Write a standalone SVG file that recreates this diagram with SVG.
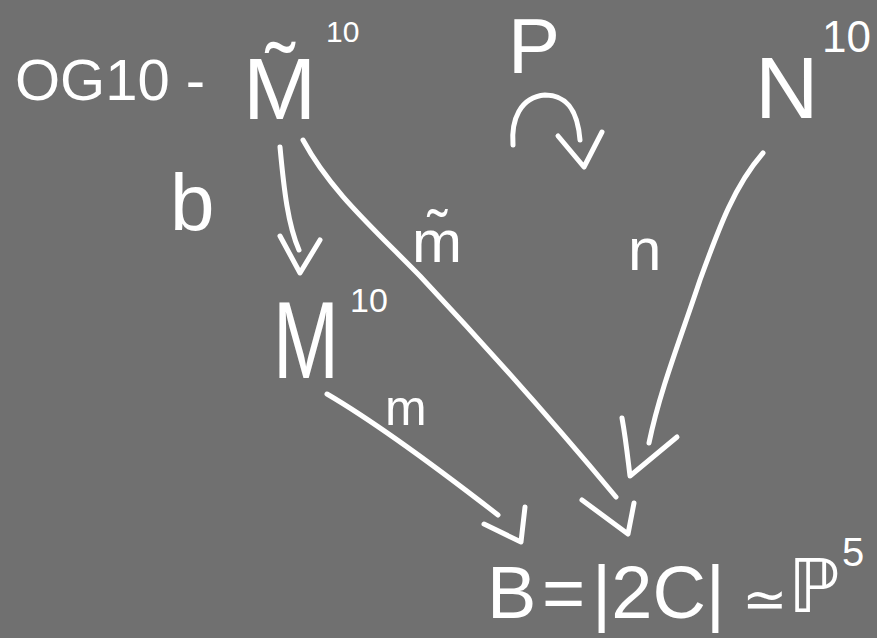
<svg xmlns="http://www.w3.org/2000/svg" width="877" height="638" viewBox="0 0 877 638">
<style>
text{fill:#ffffff;font-family:"Liberation Sans","DejaVu Sans",sans-serif}
.c{fill:none;stroke:#ffffff;stroke-width:5;stroke-linecap:round;stroke-linejoin:round}
</style>
<rect width="877" height="638" fill="#707070"/>
<g id="node-mtilde">
<text x="15" y="100" font-size="58">OG10 -<tspan x="243" y="119" font-size="88">M̃</tspan><tspan x="326" y="42" font-size="30">10</tspan></text>
</g>
<g id="node-p">
<text x="508" y="73" font-size="78">P</text>
</g>
<g id="node-n">
<text x="755" y="118" font-size="88">N<tspan x="822" y="52" font-size="44">10</tspan></text>
</g>
<g id="node-m">
<text transform="translate(273,378) scale(0.72,1)" font-size="110">M</text>
<text x="350" y="312" font-size="34">10</text>
</g>
<g id="node-b">
<text y="618" font-size="74"><tspan x="487">B</tspan><tspan x="542">=</tspan><tspan x="592">|2C|</tspan><tspan x="742" font-size="54">≃</tspan><tspan x="788" y="612" font-size="74" style="font-family:'DejaVu Sans',sans-serif">ℙ</tspan><tspan x="842" y="566" font-size="40">5</tspan></text>
</g>
<g id="connectors">
<path class="c" d="M280,147 C284,190 288,225 299,250"/>
<path class="c" d="M280,236 L300,273 L320,240"/>
<path class="c" d="M303,140 C330,190 370,225 420,276 C480,340 560,430 616,497"/>
<path class="c" d="M582,500 L628,534 L634,503"/>
<path class="c" d="M327,394 C380,425 440,470 498,515"/>
<path class="c" d="M484,524 L521,542 L525,507"/>
<path class="c" d="M763,153 C735,185 720,225 700,280 C680,340 660,390 649,443"/>
<path class="c" d="M622,418 C626,440 628,460 630,476 L677,437"/>
<path class="c" d="M513,145 C511,120 520,97 545,95 C570,95 578,115 580,140"/>
<path class="c" d="M558,136 L584,167 L602,132"/>
<text x="170" y="230" font-size="80">b</text>
<text x="412" y="262" font-size="60">m̃</text>
<text x="628" y="270" font-size="60">n</text>
<text x="385" y="425" font-size="50">m</text>
</g>
</svg>
